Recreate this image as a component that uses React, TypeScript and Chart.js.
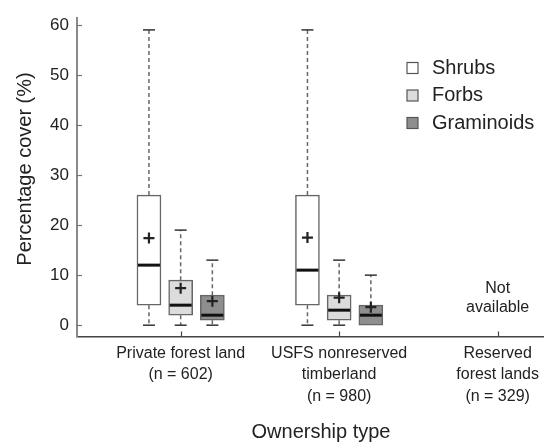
import React, { useEffect, useRef } from "react";
import { Chart, registerables } from "chart.js";

Chart.register(...registerables);

const FONT = '"Liberation Sans", Arial, Helvetica, sans-serif';

const categories: string[][] = [
  ["Private forest land", "(n = 602)"],
  ["USFS nonreserved", "timberland", "(n = 980)"],
  ["Reserved", "forest lands", "(n = 329)"],
];
const categoryPositions = [1, 2, 3];
const seriesNames = ["Shrubs", "Forbs", "Graminoids"];
const seriesOffsets = [-0.2, 0, 0.2];
const seriesColors = ["#ffffff", "#dcdcdc", "#8e8e8e"];

// indexed [series][category]; null = not available
const whiskerLow = [
  [0, 0, null],
  [0, 0, null],
  [0, 0, null],
];
const quartile1 = [
  [4, 4, null],
  [2, 1, null],
  [1, 0, null],
];
const medians = [
  [12, 11, null],
  [4, 3, null],
  [2, 2, null],
];
const quartile3 = [
  [26, 26, null],
  [9, 6, null],
  [6, 4, null],
];
const whiskerHigh = [
  [59, 59, null],
  [19, 13, null],
  [13, 10, null],
];
const means = [
  [17.4, 17.5, null],
  [7.4, 5.5, null],
  [4.8, 3.6, null],
];
const yTicks = [0, 10, 20, 30, 40, 50, 60];
const notAvailableText = ["Not", "available"];
const notAvailableCategory = 2;
const xTitle = "Ownership type";
const yTitle = "Percentage cover (%)";

const extrasPlugin = {
  id: "boxExtras",
  afterDatasetsDraw(chart: any) {
    const ctx = chart.ctx as CanvasRenderingContext2D;
    const xs = chart.scales.x;
    const ys = chart.scales.y;
    const area = chart.chartArea;
    ctx.save();
    seriesNames.forEach((_name, s) => {
      categoryPositions.forEach((cx, c) => {
        const q1 = quartile1[s][c];
        const q3 = quartile3[s][c];
        const lo = whiskerLow[s][c];
        const hi = whiskerHigh[s][c];
        const med = medians[s][c];
        const mean = means[s][c];
        if (q1 == null || q3 == null || lo == null || hi == null || med == null || mean == null) return;
        const px = xs.getPixelForValue(cx + seriesOffsets[s]);
        const half = 12;
        const capHalf = 6;
        // whiskers
        ctx.strokeStyle = "#666";
        ctx.lineWidth = 1.5;
        ctx.setLineDash([4, 3]);
        if (hi > q3) {
          ctx.beginPath();
          ctx.moveTo(px, ys.getPixelForValue(q3));
          ctx.lineTo(px, ys.getPixelForValue(hi));
          ctx.stroke();
        }
        if (lo < q1) {
          ctx.beginPath();
          ctx.moveTo(px, ys.getPixelForValue(q1));
          ctx.lineTo(px, ys.getPixelForValue(lo));
          ctx.stroke();
        }
        ctx.setLineDash([]);
        ctx.strokeStyle = "#333";
        if (hi > q3) {
          const y = ys.getPixelForValue(hi);
          ctx.beginPath();
          ctx.moveTo(px - capHalf, y);
          ctx.lineTo(px + capHalf, y);
          ctx.stroke();
        }
        if (lo < q1) {
          const y = ys.getPixelForValue(lo);
          ctx.beginPath();
          ctx.moveTo(px - capHalf, y);
          ctx.lineTo(px + capHalf, y);
          ctx.stroke();
        }
        // median
        ctx.strokeStyle = "#111";
        ctx.lineWidth = 3;
        const my = ys.getPixelForValue(med);
        ctx.beginPath();
        ctx.moveTo(px - half + 1, my);
        ctx.lineTo(px + half - 1, my);
        ctx.stroke();
        // mean +
        ctx.strokeStyle = "#222";
        ctx.lineWidth = 2.2;
        const ay = ys.getPixelForValue(mean);
        ctx.beginPath();
        ctx.moveTo(px - 5.5, ay);
        ctx.lineTo(px + 5.5, ay);
        ctx.moveTo(px, ay - 5.5);
        ctx.lineTo(px, ay + 5.5);
        ctx.stroke();
      });
    });

    // inner tick marks
    ctx.strokeStyle = "#777";
    ctx.lineWidth = 1.2;
    yTicks.forEach((v) => {
      const y = Math.round(ys.getPixelForValue(v)) + 0.5;
      ctx.beginPath();
      ctx.moveTo(area.left, y);
      ctx.lineTo(area.left + 5, y);
      ctx.stroke();
    });
    ctx.strokeStyle = "#444";
    categoryPositions.forEach((v) => {
      const x = Math.round(xs.getPixelForValue(v)) + 0.5;
      ctx.beginPath();
      ctx.moveTo(x, area.bottom);
      ctx.lineTo(x, area.bottom - 5);
      ctx.stroke();
    });

    // Not available
    ctx.fillStyle = "#222";
    ctx.font = `16px ${FONT}`;
    ctx.textAlign = "center";
    ctx.textBaseline = "middle";
    const nx = xs.getPixelForValue(categoryPositions[notAvailableCategory]);
    const baseY = ys.getPixelForValue(0);
    ctx.fillText(notAvailableText[0], nx, baseY - 37);
    ctx.fillText(notAvailableText[1], nx, baseY - 18);

    // legend
    chart.data.datasets.forEach((ds: any, i: number) => {
      const ly = 68 + i * 27.5;
      ctx.fillStyle = ds.backgroundColor;
      ctx.fillRect(407, ly - 5.5, 11, 11);
      ctx.strokeStyle = "#555";
      ctx.lineWidth = 1.2;
      ctx.strokeRect(407, ly - 5.5, 11, 11);
      ctx.fillStyle = "#222";
      ctx.font = `20px ${FONT}`;
      ctx.textAlign = "left";
      ctx.textBaseline = "middle";
      ctx.fillText(ds.label, 432, ly);
    });

    // axis titles
    ctx.fillStyle = "#222";
    ctx.font = `20px ${FONT}`;
    ctx.textAlign = "center";
    ctx.textBaseline = "middle";
    ctx.fillText(xTitle, 321, 432);
    ctx.save();
    ctx.translate(25, 169);
    ctx.rotate(-Math.PI / 2);
    ctx.fillText(yTitle, 0, 0);
    ctx.restore();
    ctx.restore();
  },
};

export default function App() {
  const ref = useRef<HTMLCanvasElement | null>(null);
  useEffect(() => {
    if (!ref.current) return;
    Chart.defaults.font.family = FONT;
    const datasets = seriesNames.map((name, s) => ({
      label: name,
      data: categoryPositions
        .map((cx, c) =>
          quartile1[s][c] == null
            ? null
            : { x: cx + seriesOffsets[s], y: [quartile1[s][c], quartile3[s][c]] }
        )
        .filter((d) => d !== null),
      backgroundColor: seriesColors[s],
      borderColor: "#666",
      borderWidth: 1.5,
      borderSkipped: false,
      barThickness: 24,
      grouped: false,
    }));
    const chart = new Chart(ref.current, {
      type: "bar",
      data: { datasets: datasets as any },
      plugins: [extrasPlugin],
      options: {
        animation: false,
        responsive: true,
        maintainAspectRatio: false,
        layout: { padding: { top: 12.7, right: 0, left: 0, bottom: 0 } },
        plugins: { legend: { display: false }, tooltip: { enabled: false } },
        scales: {
          x: {
            type: "linear",
            min: 0.346,
            max: 3.289,
            offset: false,
            grid: { display: false, drawTicks: false },
            border: { display: true, color: "#444", width: 1.5 },
            afterBuildTicks: (scale: any) => {
              scale.ticks = categoryPositions.map((v) => ({ value: v }));
            },
            afterFit: (scale: any) => {
              scale.height = 108.5;
            },
            ticks: {
              autoSkip: false,
              maxRotation: 0,
              minRotation: 0,
              padding: 6,
              color: "#222",
              font: { size: 16, lineHeight: 1.35 },
              callback: (value: any) => categories[Math.round(value) - 1] ?? "",
            },
          },
          y: {
            type: "linear",
            min: -2.26,
            max: 61.34,
            grid: { display: false, drawTicks: false },
            border: { display: true, color: "#8a8a8a", width: 2 },
            afterBuildTicks: (scale: any) => {
              scale.ticks = yTicks.map((v) => ({ value: v }));
            },
            afterFit: (scale: any) => {
              scale.width = 77;
            },
            ticks: {
              padding: 8,
              color: "#222",
              font: { size: 17 },
            },
          },
        },
      } as any,
    });
    return () => chart.destroy();
  }, []);
  return (
    <div style={{ position: "absolute", left: 0, top: 0, width: 545, height: 445, background: "#fff" }}>
      <canvas ref={ref} />
    </div>
  );
}
